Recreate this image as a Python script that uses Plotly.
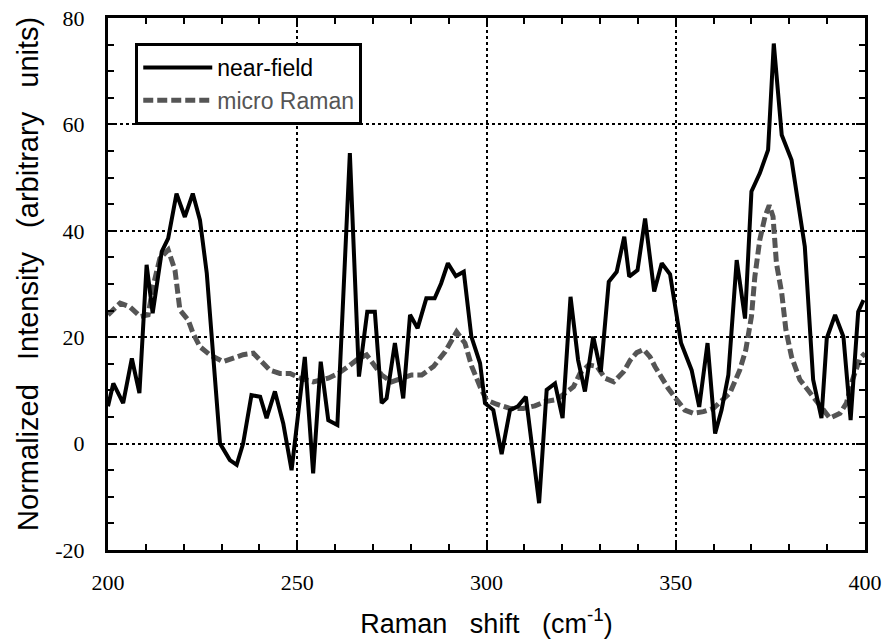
import plotly.graph_objects as go

nf_x = [200, 201.4, 204.0, 206.3, 208.3, 210.2, 211.8, 214.2, 215.9, 218.1, 220.3, 222.4, 224.3, 226.1,
        229.6, 232.2, 234.0, 235.7, 237.9, 240.2, 241.9, 244.1, 246.3, 248.5, 252.0, 254.2, 256.2, 258.2,
        260.6, 263.9, 266.3, 268.5, 270.5, 272.3, 273.6, 275.8, 278.0, 279.8, 281.8, 284.1, 286.3, 288.0,
        289.8, 291.9, 294.0, 296.0, 298.3, 299.6, 301.8, 304.0, 306.2, 308.3, 310.4, 313.9, 315.9, 318.1,
        320.1, 322.2, 324.2, 326.0, 328.2, 330.2, 332.3, 334.4, 336.4, 337.7, 339.9, 341.9, 344.3, 346.3,
        348.5, 351.4, 354.2, 356.2, 358.4, 360.4, 362.1, 363.9, 366.1, 368.3, 370.0, 372.2, 374.4, 375.9,
        378.0, 380.6, 384.1, 386.3, 388.5, 389.9, 392.1, 394.3, 396.2, 398.2, 399.6]
nf_y = [7.0, 11.3, 7.6, 16.0, 9.5, 33.6, 24.5, 36.1, 38.6, 47.0, 42.6, 47.0, 42.0, 32.0,
        0.0, -3.1, -4.0, 0.0, 9.1, 8.8, 4.8, 9.8, 3.8, -5.0, 16.3, -5.6, 15.4, 4.4,
        3.5, 54.6, 12.6, 24.8, 24.8, 7.6, 8.5, 18.9, 8.5, 24.2, 21.7, 27.3, 27.3, 30.1,
        33.9, 31.5, 32.3, 20.1, 15.1, 7.6, 6.3, -2.0, 6.3, 7.0, 8.8, -11.2, 10.1, 11.3,
        4.8, 27.6, 15.7, 9.8, 20.1, 13.5, 30.4, 32.3, 38.9, 31.4, 32.6, 42.3, 28.6, 33.9,
        31.8, 18.9, 13.8, 6.9, 18.9, 1.9, 6.3, 12.9, 34.5, 23.5, 47.4, 50.8, 55.2, 75.2,
        58.0, 53.3, 37.0, 12.0, 4.8, 19.8, 24.2, 20.1, 4.4, 24.8, 27.0]

mr_x = [200, 203.2, 205.8, 208.5, 210.6, 211.9, 213.7, 215.9, 217.7, 219.0, 221.2, 222.5, 224.3, 226.9,
        230.4, 233.1, 235.7, 238.4, 240.6, 242.8, 245.4, 248.1, 250.7, 254.2, 258.2, 260.9, 263.5, 266.2,
        268.3, 270.5, 272.3, 274.9, 277.6, 280.2, 282.9, 286.0, 289.1, 292.1, 294.3, 296.1, 298.3, 300.0,
        302.7, 306.2, 309.7, 312.8, 315.5, 318.6, 320.8, 323.0, 324.7, 327.0, 329.2, 331.3, 333.6, 336.2,
        338.0, 339.7, 341.5, 343.2, 344.5, 346.3, 348.0, 350.0, 352.4, 354.6, 357.3, 359.9, 362.1, 364.3,
        366.9, 368.5, 370.0, 370.9, 372.2, 373.6, 374.7, 375.7, 376.6, 378.0, 379.1, 380.6, 382.8, 385.5,
        388.1, 390.7, 393.4, 395.1, 396.7, 398.7, 400]
mr_y = [24.2, 26.4, 25.7, 23.9, 24.2, 29.5, 34.8, 36.4, 32.6, 25.1, 23.2, 20.7, 18.2, 16.7,
        15.4, 16.0, 16.7, 17.0, 15.4, 13.8, 13.2, 13.2, 12.3, 11.6, 12.3, 13.2, 14.5, 16.0,
        16.7, 14.8, 12.9, 11.6, 12.3, 12.9, 12.9, 14.5, 17.3, 21.0, 18.9, 14.5, 10.7, 8.2,
        7.4, 6.6, 6.6, 7.1, 7.9, 8.3, 9.5, 10.7, 13.2, 14.8, 14.5, 12.3, 11.6, 13.5,
        15.7, 17.1, 17.7, 16.3, 14.5, 12.3, 10.4, 8.5, 6.3, 5.7, 6.0, 6.6, 7.9, 9.5,
        13.8, 17.6, 23.9, 31.4, 38.3, 42.7, 44.8, 42.7, 33.9, 28.3, 21.4, 16.3, 12.0, 9.5,
        6.9, 4.8, 5.7, 7.6, 12.0, 16.0, 17.0]

x_ticks = [200, 250, 300, 350, 400]
y_ticks = [-20, 0, 20, 40, 60, 80]

SANS = "Liberation Sans, Arial, sans-serif"
SERIF = "Liberation Serif, Times New Roman, serif"
SP3 = "\u00a0\u00a0\u00a0"
y_title = "Normalized" + SP3 + "Intensity" + SP3 + "(arbitrary" + SP3 + "units)"
x_title = "Raman" + SP3 + "shift" + SP3 + "(cm<sup>-1</sup>)"

fig = go.Figure()
fig.add_trace(go.Scatter(x=mr_x, y=mr_y, mode="lines", name="<span style='color:#555555'>micro Raman</span>",
                         line=dict(color="#555555", width=5, dash="10px,4px")))
fig.add_trace(go.Scatter(x=nf_x, y=nf_y, mode="lines", name="near-field",
                         line=dict(color="black", width=4)))

axis_common = dict(
    showline=True, linecolor="black", linewidth=3, mirror="ticks",
    ticks="inside", ticklen=9, tickwidth=2, tickcolor="black",
    showgrid=True, gridcolor="black", gridwidth=1.5, griddash="dot",
    zeroline=False, automargin=False, ticklabeloverflow="allow",
    tickfont=dict(family=SERIF, size=22, color="black"),
)

fig.update_xaxes(range=[200, 400], tickvals=x_ticks, ticktext=[str(v) for v in x_ticks],
                 ticklabelstandoff=11,
                 minor=dict(dtick=10, ticks="inside", ticklen=6, tickwidth=2, tickcolor="black", showgrid=False),
                 title=dict(text=x_title, font=dict(family=SANS, size=27, color="black"), standoff=20),
                 **axis_common)
fig.update_yaxes(range=[-20, 80], tickvals=y_ticks, ticktext=[str(v) for v in y_ticks],
                 ticklabelstandoff=16,
                 minor=dict(dtick=5, ticks="inside", ticklen=6, tickwidth=2, tickcolor="black", showgrid=False),
                 **axis_common)

fig.add_annotation(text=y_title, textangle=-90, xref="paper", yref="paper",
                   x=-0.1057, y=0.519, xanchor="center", yanchor="middle", showarrow=False,
                   font=dict(family=SANS, size=29, color="black"))

fig.update_layout(
    width=888, height=644,
    margin=dict(l=108, r=23, t=18, b=94),
    plot_bgcolor="white", paper_bgcolor="white",
    legend=dict(x=0.036, y=0.953, xanchor="left", yanchor="top",
                bordercolor="black", borderwidth=3, bgcolor="white",
                traceorder="reversed", itemwidth=69, tracegroupgap=0,
                font=dict(family=SANS, size=23, color="black")),
    showlegend=True,
)

fig.write_html("out.html", config={"displayModeBar": False},
               post_script="document.body.style.margin='0';document.body.style.overflow='hidden';")
